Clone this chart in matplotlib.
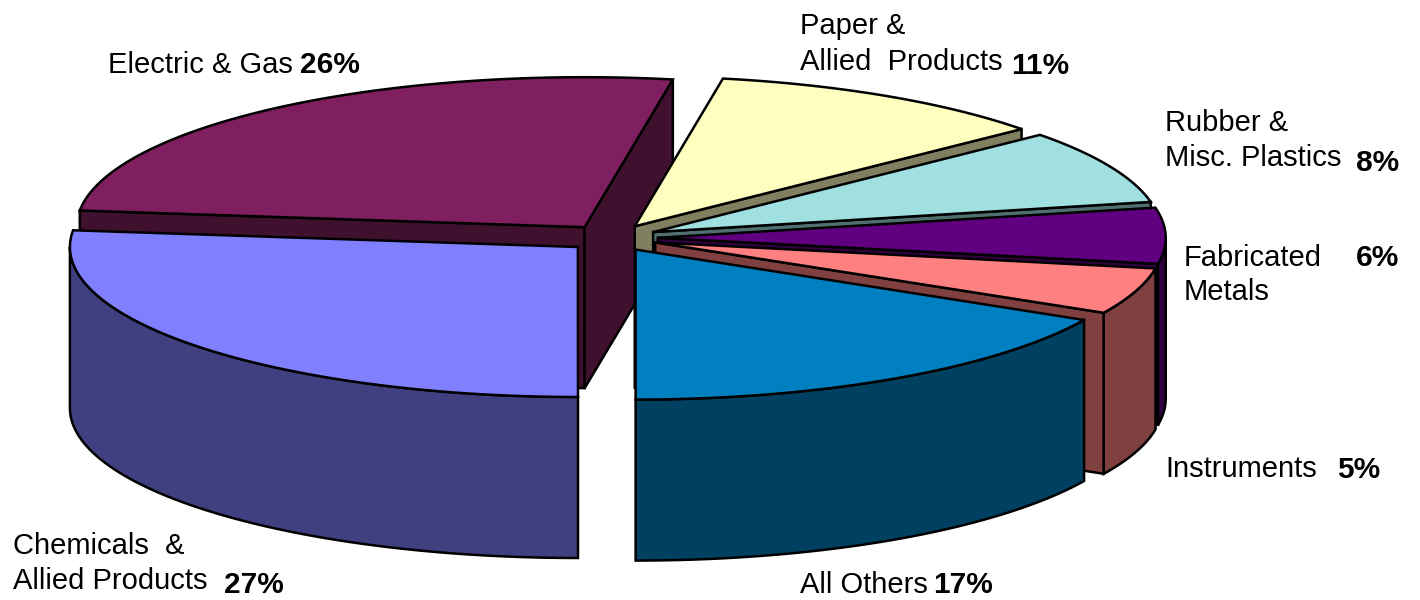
#!/usr/bin/python

import numpy as np
import matplotlib
matplotlib.use('Agg')
import matplotlib.pyplot as plt

plt.rcParams['font.family'] = ['Liberation Sans', 'DejaVu Sans']

# clockwise from the first slice edge
names = ['Electric & Gas', 'Paper & Allied Products', 'Rubber & Misc. Plastics',
         'Fabricated Metals', 'Instruments', 'All Others', 'Chemicals & Allied Products']
values = [26, 11, 8, 6, 5, 17.22, 26.78]
top_colors = ['#7F1F5F', '#FFFFC0', '#A0E0E0', '#600080', '#FF8080', '#0080C0', '#8080FF']
side_colors = ['#40102F', '#808060', '#507070', '#300040', '#804040', '#004060', '#404080']

# geometry, in pixels of the picture
start_angle = -83.6
cx, cy = 612, 238
rx, ry = 508, 150
depth = 161
explode = 0.09
lw = 1.8


def rim(t, ox, oy):
    t = np.radians(t)
    return ox + rx * np.sin(t), oy - ry * np.cos(t)


def face(xs, ys, color):
    ax.fill(xs, ys, facecolor=color, edgecolor='black', linewidth=lw, zorder=order[0])
    order[0] += 1


fig = plt.figure(figsize=(14.2, 6), dpi=100)
ax = fig.add_axes([0, 0, 1, 1])
ax.set_xlim(0, 1420)
ax.set_ylim(600, 0)
ax.axis('off')
order = [1]

edges = start_angle + 3.6 * np.cumsum([0] + values)

for i in range(len(values)):
    a, b = edges[i], edges[i + 1]
    mid = np.radians((a + b) / 2)
    ox = cx + explode * rx * np.sin(mid)
    oy = cy - explode * ry * np.cos(mid)
    ts = np.linspace(a, b, 80)
    xs, ys = rim(ts, ox, oy)

    # cut faces, only the ones turned to the viewer
    if np.sin(np.radians(a)) < -0.02:
        x1, y1 = rim(a, ox, oy)
        face([ox, x1, x1, ox], [oy, y1, y1 + depth, oy + depth], side_colors[i])
    if np.sin(np.radians(b)) > 0.02:
        x1, y1 = rim(b, ox, oy)
        face([ox, x1, x1, ox], [oy, y1, y1 + depth, oy + depth], side_colors[i])

    # outer wall on the front half
    for shift in (0, 360):
        lo, hi = max(a, 90 + shift), min(b, 270 + shift)
        if hi > lo:
            tw = np.linspace(lo, hi, 80)
            xw, yw = rim(tw, ox, oy)
            face(np.r_[xw, xw[::-1]], np.r_[yw, yw[::-1] + depth], side_colors[i])

    face(np.r_[ox, xs], np.r_[oy, ys], top_colors[i])

# labels
label_lines = ['Electric & Gas', 'Paper &', 'Allied  Products', 'Rubber &', 'Misc. Plastics',
               'Fabricated', 'Metals', 'Instruments', 'All Others', 'Chemicals  &', 'Allied Products']
label_x = [108, 800, 800, 1165, 1165, 1184, 1184, 1165, 800, 13, 13]
label_y = [73, 34, 70, 131, 166, 266, 300, 477, 593, 554, 589]
pct_labels = ['26%', '11%', '8%', '6%', '5%', '17%', '27%']
pct_x = [300, 1011, 1356, 1356, 1337, 933, 224]
pct_y = [73, 74, 171, 266, 478, 593, 593]

for s, x, y in zip(label_lines, label_x, label_y):
    ax.text(x, y, s, fontsize=21, va='baseline', ha='left', color='black', zorder=50)
for s, x, y in zip(pct_labels, pct_x, pct_y):
    ax.text(x, y, s, fontsize=21.5, fontweight='bold', va='baseline', ha='left', color='black', zorder=50)

fig.savefig('out.png', dpi=100)
